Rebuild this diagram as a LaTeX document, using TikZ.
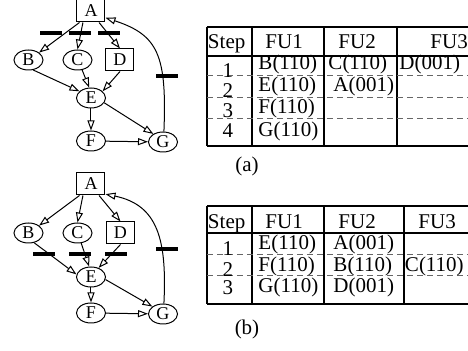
\documentclass[tikz,border=0pt]{standalone}
\usepackage{fontspec}
\setmainfont{Liberation Serif}
\usepackage{tikz}
\usetikzlibrary{positioning,arrows.meta,shapes.geometric}

\tikzset{
  op/.style={ellipse,draw,inner sep=0pt,minimum width=14.5pt,minimum height=10pt,font=\fontsize{9}{10}\selectfont},
  mem/.style={rectangle,draw,inner sep=0pt,minimum width=14pt,minimum height=11pt,font=\fontsize{9}{10}\selectfont},
  cut/.style={fill=black,inner sep=0pt,minimum width=11pt,minimum height=2pt},
  dep/.style={-{Triangle[open,length=5pt,width=3.5pt]}},
  tabline/.style={line width=0.7pt},
  rowsep/.style={black!60,dash pattern=on 3pt off 2pt},
  cell/.style={anchor=base west,inner sep=0pt},
  stepno/.style={anchor=base,inner sep=0pt},
}

\begin{document}
\begin{tikzpicture}[x=0.5pt,y=-0.5pt,font=\fontsize{10.5}{12}\selectfont,line width=0.5pt]
				\useasboundingbox (0,0) rectangle (468,351);
				% graph (a)
				\node[mem] (A1) at (91,11) {A};
				\node[op] (B1) at (28.5,60) {B};
				\node[op] (C1) at (77.5,60) {C};
				\node[mem] (D1) at (120,60) {D};
				\node[op] (E1) at (91,98) {E};
				\node[op] (F1) at (91,141) {F};
				\node[op] (G1) at (163,142) {G};
				\draw[dep] (A1.225) -- (B1.north east);
				\draw[dep] (A1.235) -- (C1.north);
				\draw[dep] (A1.305) -- (D1.north);
				\draw[dep] (B1.-65) -- (E1.150);
				\draw[dep] (C1.-65) -- (E1.100);
				\draw[dep] (D1.south) -- (E1.30);
				\draw[dep] (E1) -- (F1);
				\draw[dep] (E1.-20) -- (G1.140);
				\draw[dep] (F1) -- (G1);
				\draw[dep] (G1.85) .. controls (167,55) and (158,35) .. (A1.-25);
				% cuts (a)
				\foreach \x/\y [count=\i] in {51/33,80/33,109/33,167.5/76}
					\node[cut] (ka\i) at (\x,\y) {};
				% graph (b)
				\node[mem] (A2) at (91,184) {A};
				\node[op] (B2) at (28.5,233) {B};
				\node[op] (C2) at (77.5,233) {C};
				\node[mem] (D2) at (120.5,233) {D};
				\node[op] (E2) at (91,277) {E};
				\node[op] (F2) at (91,313) {F};
				\node[op] (G2) at (163,314) {G};
				\draw[dep] (A2.225) -- (B2.north east);
				\draw[dep] (A2.235) -- (C2.north);
				\draw[dep] (A2.305) -- (D2.north);
				\draw[dep] (B2.-60) -- (E2.170);
				\draw[dep] (C2.-70) -- (E2.100);
				\draw[dep] (D2.south) -- (E2.50);
				\draw[dep] (E2) -- (F2);
				\draw[dep] (E2.-10) -- (G2.145);
				\draw[dep] (F2) -- (G2);
				\draw[dep] (G2.85) .. controls (167,240) and (158,205) .. (A2.-35);
				% cuts (b)
				\foreach \x/\y [count=\i] in {44/254,80/254,116/254,167.5/249}
					\node[cut] (kb\i) at (\x,\y) {};
				% table (a)
				\foreach \y in {27,56,146} \draw[tabline] (207,\y) -- (468,\y);
				\foreach \x in {207,252,324,397} \draw[tabline] (\x,27) -- (\x,146);
				\foreach \y in {76,98,119} \draw[rowsep] (207,\y) -- (468,\y);
				\foreach \txt/\x/\y [count=\i] in {Step/207.5/49,FU1/265/49,FU2/338/49,FU3/430/49,
					B(110)/258/70,C(110)/328/70,D(001)/399/70,E(110)/258/92,A(001)/333/92,
					F(110)/258/114,G(110)/258/137}
					\node[cell] (ta\i) at (\x,\y) {\txt};
				\foreach \n/\y in {1/77.5,2/98,3/118,4/138}
					\node[stepno] (sa\n) at (228,\y) {\n};
				\node (capa) at (247,166) {(a)};
				% table (b)
				\foreach \y in {206,233,304} \draw[tabline] (207,\y) -- (468,\y);
				\foreach \x in {207,252,324,404} \draw[tabline] (\x,206) -- (\x,304);
				\foreach \y in {254.5,276} \draw[rowsep] (207,\y) -- (468,\y);
				\foreach \txt/\x/\y [count=\i] in {Step/207.5/229,FU1/265/229,FU2/338/229,FU3/418/229,
					E(110)/258/250,A(001)/333/250,F(110)/258/272,B(110)/333/272,C(110)/404.5/272,
					G(110)/258/293,D(001)/333/293}
					\node[cell] (tb\i) at (\x,\y) {\txt};
				\foreach \n/\y in {1/256,2/276.5,3/295}
					\node[stepno] (sb\n) at (228,\y) {\n};
				\node (capb) at (247,329) {(b)};
			\end{tikzpicture}
\end{document}
